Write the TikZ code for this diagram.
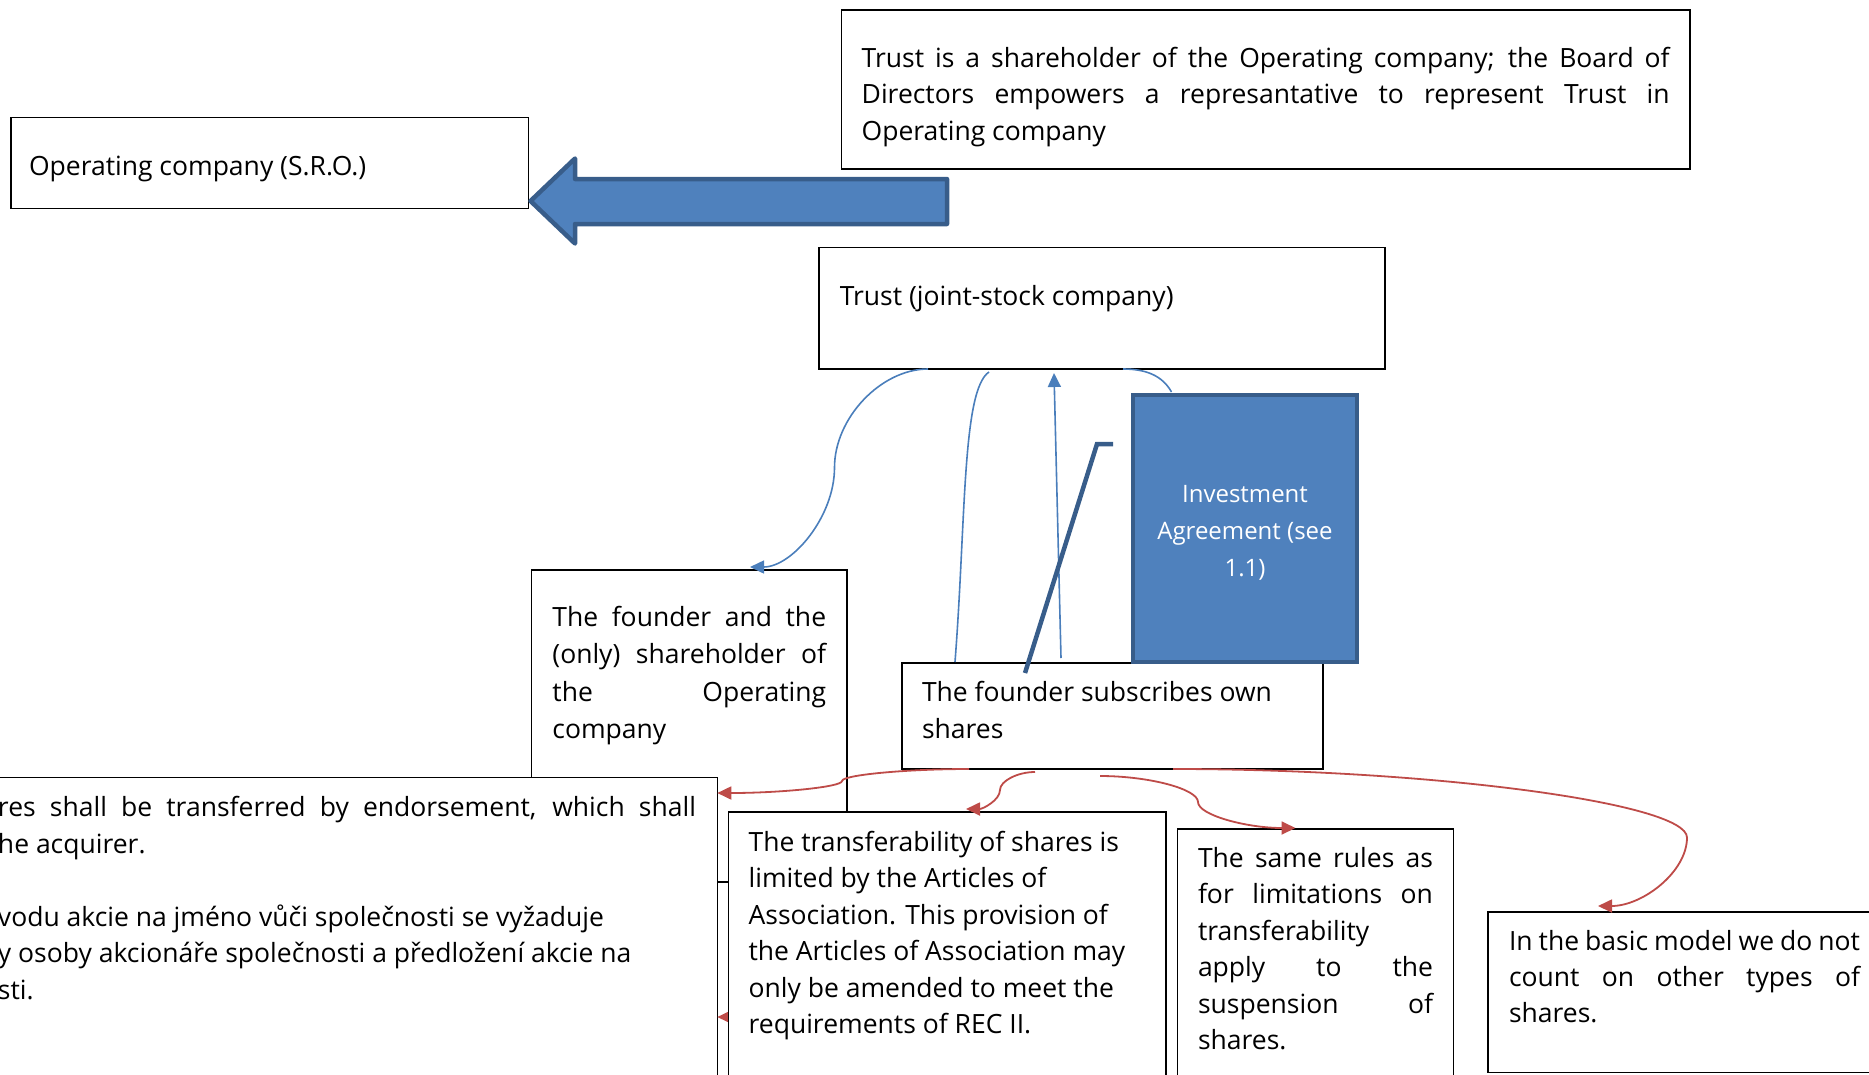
\documentclass[tikz,border=0pt]{standalone}
\usepackage{fontspec}
\setmainfont{Open Sans}
\usepackage{tikz}
\usetikzlibrary{arrows.meta}
\usetikzlibrary{calc}
\definecolor{accentblue}{HTML}{4F81BD}
\definecolor{borderblue}{HTML}{385D8A}
\definecolor{linkblue}{HTML}{4A7EBB}
\definecolor{linkred}{HTML}{BE4B48}

% text block: width, height, first baseline below the top, lines
\newcommand{\boxtext}[4]{\parbox[b][#2pt][t]{#1pt}{\vspace*{\dimexpr#3pt-\ht\strutbox\relax}\strut#4}}
\newcommand{\jline}[1]{\makebox[\linewidth][s]{#1}\\}

\begin{document}
\begin{tikzpicture}[x=1pt,y=-1pt,
    box/.style={draw=black,line width=1.3pt,fill=white,inner ysep=0pt,outer sep=0pt,anchor=north west,
        font=\fontsize{26.5pt}{36.5pt}\selectfont},
    bluelink/.style={draw=linkblue,line width=1.6pt},
    redlink/.style={draw=linkred,line width=1.8pt},
    darklink/.style={draw=borderblue,line width=4.5pt},
    blockarrow/.style={draw=borderblue,fill=accentblue,line width=4.5pt,line join=round},
    headed/.style={-{Triangle[length=14pt,width=13pt]}}]
\useasboundingbox (0,0) rectangle (1869,1074);

% top row
\node[box,inner xsep=18pt] (opco) at (11,117.3)
    {\boxtext{481.5}{91}{58}{Operating company (S.R.O.)}};
\node[box,inner xsep=20.3pt] (rep) at (841.4,10)
    {\boxtext{808}{159}{57}{\jline{Trust is a shareholder of the Operating company; the Board of}\jline{Directors empowers a represantative to represent Trust in}Operating company}};
\draw[blockarrow] (530.5,201) -- (575,158.5) -- (575,179) -- (947,179) -- (947,224)
    -- (575,224) -- (575,243.5) -- cycle;
\node[box,inner xsep=20.8pt] (trust) at (819,247.3)
    {\boxtext{524.4}{121.7}{57.7}{Trust (joint-stock company)}};

% lower boxes
\node[box,inner xsep=20.9pt,font=\fontsize{26.5pt}{37.2pt}\selectfont] (founder) at (531.5,570)
    {\boxtext{273.7}{312}{56.7}{\jline{The founder and the}\jline{(only) shareholder of}\jline{the Operating}company}};
\node[box,inner xsep=21.3pt] (endorse) at (-23.3,777.3)
    {\boxtext{698}{322.7}{39.4}{\jline{res shall be transferred by endorsement, which shall}he acquirer.\\[36.5pt]vodu akcie na jméno vůči společnosti se vyžaduje\\y osoby akcionáře společnosti a předložení akcie na\\sti.}};
\draw[redlink,headed] ($(endorse.north east)+(40,239.7)$) -- ($(endorse.north east)+(0,239.7)$);
\node[box,inner xsep=19.9pt] (transfer) at (728.7,812)
    {\boxtext{397.5}{288}{39}{\raggedright The transferability of shares is\\limited by the Articles of\\Association. This provision of\\the Articles of Association may\\only be amended to meet the\\requirements of REC II.}};
\node[box,inner xsep=20pt] (subscr) at (902,663)
    {\boxtext{381}{106}{38.7}{\raggedright The founder subscribes own\\shares}};
\node[box,inner xsep=10pt,draw=borderblue,fill=accentblue,line width=4.5pt,text=white,
    font=\fontsize{24pt}{37pt}\selectfont] (invest) at (1133,395)
    {\boxtext{204}{267}{107.7}{\centering Investment\\Agreement (see\\1.1)}};
\node[box,inner xsep=20.5pt] (suspend) at (1177.5,829)
    {\boxtext{235}{271}{38.3}{\jline{The same rules as}\jline{for limitations on}transferability\\\jline{apply to the}\jline{suspension of}shares.}};
\node[box,inner xsep=21pt,font=\fontsize{26.5pt}{36pt}\selectfont] (other) at (1488,912)
    {\boxtext{351}{160.5}{38.7}{\jline{In the basic model we do not}\jline{count on other types of}shares.}};

% links round the Trust
\draw[bluelink,headed] ($(trust.south west)+(109,0)$) .. controls (881,369) and (834.5,418) .. (834.5,467.5)
    .. controls (834.5,517) and (792,567) .. ($(founder.north west)+(218.5,-3)$);
\draw[bluelink] ($(subscr.north west)+(53,-1)$) .. controls (966,520) and (962,390) .. ($(trust.south west)+(170,3)$);
\draw[bluelink,headed] ($(subscr.north west)+(159,-5)$) -- ($(trust.south west)+(235,4)$);
\draw[bluelink] ($(invest.north west)+(38.5,-3)$) .. controls (1162,375) and (1145,369) .. ($(trust.south west)+(304,0)$);
\draw[darklink] ($(subscr.north west)+(123,10)$) -- (1097,444) -- (1113,444);

% links out of the subscription
\draw[redlink,headed] ($(subscr.south west)+(67,0)$) .. controls (905.5,769) and (842,775) .. (842,781)
    .. controls (842,787) and (780,793) .. ($(endorse.north east)+(0,15.7)$);
\draw[redlink,headed] ($(subscr.south west)+(133,3)$) .. controls (1017.5,772) and (1000,781) .. (1000,790)
    .. controls (1000,800) and (983,809) .. ($(transfer.north west)+(237.3,-3)$);
\draw[redlink,headed] ($(subscr.south west)+(198,7)$) .. controls (1149,776) and (1198,789) .. (1198,802)
    .. controls (1198,815) and (1246.5,828) .. ($(suspend.north west)+(118,-1)$);
\draw[redlink,headed] ($(subscr.south west)+(271,0)$) .. controls (1430,769) and (1687,803) .. (1687,837.5)
    .. controls (1687,872) and (1642.5,906) .. ($(other.north west)+(110,-6)$);
\end{tikzpicture}
\end{document}
